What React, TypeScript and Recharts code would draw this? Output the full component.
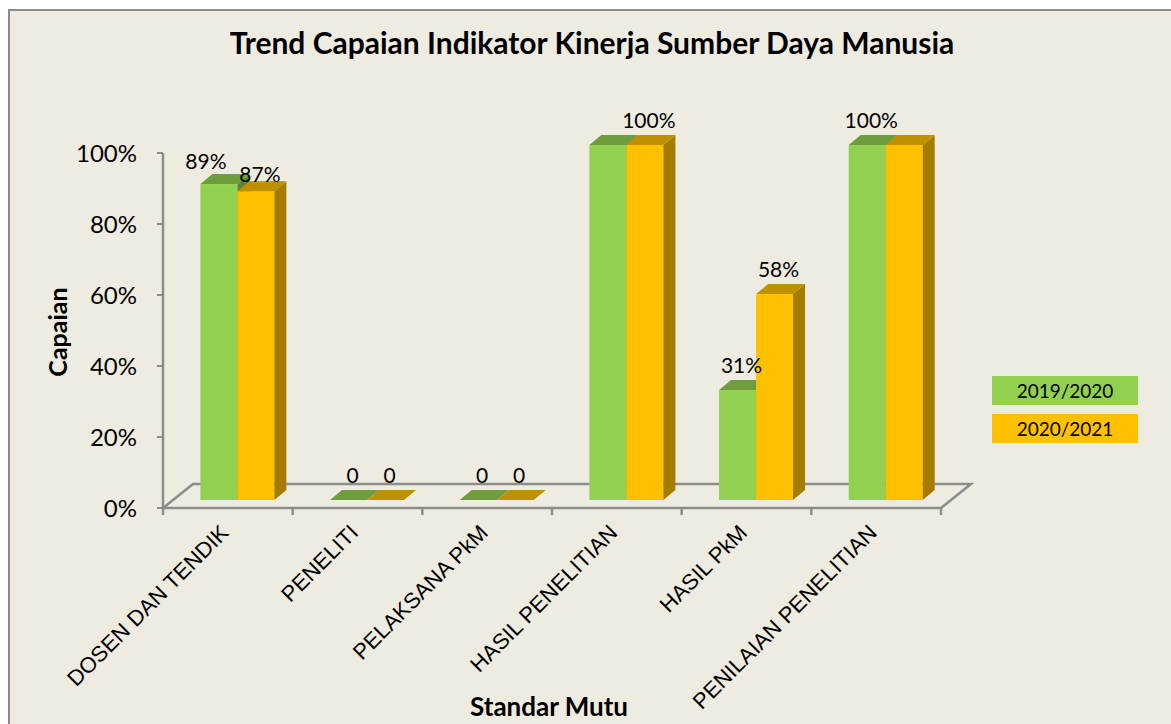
import React from 'react'
import { Bar, BarChart, CartesianGrid, LabelList, Legend, XAxis, YAxis } from 'recharts'

const categories = [
  'DOSEN DAN TENDIK',
  'PENELITI',
  'PELAKSANA PkM',
  'HASIL PENELITIAN',
  'HASIL PkM',
  'PENILAIAN PENELITIAN'
]
const values2019 = [0.89, 0, 0, 1, 0.31, 1]
const values2020 = [0.87, 0, 0, 1, 0.58, 1]
// data labels as shown on the chart (blank = label hidden)
const labels2019 = ['89%', '0', '0', '', '31%', '100%']
const labels2020 = ['87%', '0', '0', '100%', '58%', '']
const seriesNames = ['2019/2020', '2020/2021']
const yTicks = [0, 0.2, 0.4, 0.6, 0.8, 1]

const data = categories.map((name, i) => ({
  name,
  v2019: values2019[i],
  v2020: values2020[i],
  l2019: labels2019[i],
  l2020: labels2020[i]
}))

const WIDTH = 1171
const HEIGHT = 724
const BG = '#EEECE1'
const AXIS = '#8C8C8C'
const CALIBRI = 'Lato, "Open Sans", sans-serif'
const ARIAL = '"Liberation Sans", Arial, sans-serif'

// pseudo 3D geometry
const SHIFT_X = 9.5
const SHIFT_Y = -8
const DEPTH_X = 12
const DEPTH_Y = 10
const FLOOR_X = 30
const FLOOR_Y = 24

const make3DBar = (front: string, top: string, side: string) => (props: any) => {
  const { x, y, width } = props
  const h = Math.max(props.height || 0, 0)
  const fx = x + SHIFT_X
  const fy = y + SHIFT_Y
  return (
    <g>
      {h > 0 && <rect x={fx} y={fy} width={width} height={h} fill={front} />}
      {h > 0 && (
        <polygon
          points={`${fx + width},${fy} ${fx + width + DEPTH_X},${fy - DEPTH_Y} ${fx + width + DEPTH_X},${fy + h - DEPTH_Y} ${fx + width},${fy + h}`}
          fill={side}
        />
      )}
      <polygon
        points={`${fx},${fy} ${fx + width},${fy} ${fx + width + DEPTH_X},${fy - DEPTH_Y} ${fx + DEPTH_X},${fy - DEPTH_Y}`}
        fill={top}
      />
    </g>
  )
}

const GreenBar = make3DBar('#92D050', '#6F9C3D', '#5E8533')
const OrangeBar = make3DBar('#FFC000', '#BF9000', '#A67C00')

// labels of neighbouring bars with nearly equal height get pushed apart
const isCrowded = (i: number) =>
  values2019[i] > 0 &&
  values2020[i] > 0 &&
  labels2019[i] !== '' &&
  labels2020[i] !== '' &&
  Math.abs(values2019[i] - values2020[i]) < 0.05

const makeLabel = (series: 0 | 1) => (props: any) => {
  const vb = props.viewBox || props
  const x = props.x ?? vb.x
  const y = props.y ?? vb.y
  const width = props.width ?? vb.width
  if (!props.value) return null
  const crowded = isCrowded(props.index)
  let dx = 4
  let dy = -17
  if (crowded && series === 0) {
    dx = -13
    dy = -15
  }
  if (crowded && series === 1) dy = -9
  return (
    <text
      x={x + SHIFT_X + width / 2 + dx}
      y={y + SHIFT_Y + dy}
      textAnchor="middle"
      fontFamily={CALIBRI}
      fontSize={21}
      fill="#000"
    >
      {props.value}
    </text>
  )
}

const GreenLabel = makeLabel(0)
const OrangeLabel = makeLabel(1)

const renderFloor = (props: any) => {
  if (props.index !== 0) return <g key={`floor-${props.index}`} />
  const left = props.x
  const right = props.x + props.width
  const bottom = props.y + props.height
  const band = props.width / categories.length
  const ticks = categories.map((_, i) => left + i * band).concat(right)
  return (
    <g key="floor" stroke={AXIS} strokeWidth={2.5} fill="none">
      <polyline
        points={`${left},${bottom} ${left + FLOOR_X},${bottom - FLOOR_Y} ${right + FLOOR_X},${bottom - FLOOR_Y} ${right},${bottom} ${left},${bottom}`}
      />
      {ticks.map((tx, i) => (
        <line key={i} x1={tx} y1={bottom} x2={tx} y2={bottom + 7} />
      ))}
    </g>
  )
}

const CategoryTick = ({ x, y, payload }: any) => {
  const ax = x + 2
  const ay = y + 26
  return (
    <text
      x={ax}
      y={ay}
      transform={`rotate(-45 ${ax} ${ay})`}
      textAnchor="end"
      fontFamily={ARIAL}
      fontSize={22}
      fill="#000"
    >
      {payload.value}
    </text>
  )
}

const LegendBoxes = ({ payload }: any) => (
  <div>
    {(payload || []).map((p: any, i: number) => (
      <div
        key={i}
        style={{
          width: 146,
          height: 29,
          marginBottom: 9,
          background: p.color,
          fontFamily: CALIBRI,
          fontSize: 19,
          color: '#000',
          display: 'flex',
          alignItems: 'center',
          justifyContent: 'center'
        }}
      >
        {p.value}
      </div>
    ))}
  </div>
)

export default function App() {
  return (
    <div
      style={{
        position: 'absolute',
        left: 0,
        top: 0,
        width: WIDTH,
        height: HEIGHT,
        overflow: 'hidden',
        background: '#fff'
      }}
    >
      <div
        style={{
          position: 'absolute',
          left: 8,
          top: 9,
          width: 1300,
          height: 900,
          background: BG,
          border: '2px solid #8B8B8B'
        }}
      />
      <div
        style={{
          position: 'absolute',
          left: 0,
          top: 24,
          width: 1184,
          textAlign: 'center',
          fontFamily: CALIBRI,
          fontWeight: 700,
          fontSize: 30,
          color: '#000'
        }}
      >
        Trend Capaian Indikator Kinerja Sumber Daya Manusia
      </div>
      <div
        style={{
          position: 'absolute',
          left: 57,
          top: 332,
          transform: 'translate(-50%, -50%) rotate(-90deg)',
          fontFamily: CALIBRI,
          fontWeight: 700,
          fontSize: 25,
          whiteSpace: 'nowrap'
        }}
      >
        Capaian
      </div>
      <div
        style={{
          position: 'absolute',
          left: 549,
          top: 706,
          transform: 'translate(-50%, -50%)',
          fontFamily: CALIBRI,
          fontWeight: 700,
          fontSize: 26,
          whiteSpace: 'nowrap'
        }}
      >
        Standar Mutu
      </div>
      <div style={{ position: 'absolute', left: 0, top: 0 }}>
        <BarChart
          width={WIDTH}
          height={HEIGHT}
          data={data}
          margin={{ top: 153, right: 230, left: 103, bottom: 36 }}
          barCategoryGap="21.5%"
          barGap={0}
        >
          <CartesianGrid horizontal={renderFloor} vertical={false} />
          <YAxis
            width={60}
            domain={[0, 1]}
            ticks={yTicks}
            tickFormatter={(v: number) => `${Math.round(v * 100)}%`}
            tick={{ fontFamily: CALIBRI, fontSize: 24, fill: '#000' }}
            axisLine={{ stroke: AXIS, strokeWidth: 2.5 }}
            tickLine={{ stroke: AXIS, strokeWidth: 2 }}
            tickSize={6}
            tickMargin={20}
          />
          <XAxis
            dataKey="name"
            height={180}
            interval={0}
            axisLine={false}
            tickLine={false}
            tickSize={0}
            tickMargin={0}
            tick={<CategoryTick />}
          />
          <Legend
            layout="vertical"
            align="center"
            verticalAlign="middle"
            wrapperStyle={{ left: 992, top: 376, width: 150 }}
            content={<LegendBoxes />}
          />
          <Bar
            dataKey="v2019"
            name={seriesNames[0]}
            fill="#92D050"
            shape={GreenBar}
            isAnimationActive={false}
          >
            <LabelList dataKey="l2019" content={<GreenLabel />} />
          </Bar>
          <Bar
            dataKey="v2020"
            name={seriesNames[1]}
            fill="#FFC000"
            shape={OrangeBar}
            isAnimationActive={false}
          >
            <LabelList dataKey="l2020" content={<OrangeLabel />} />
          </Bar>
        </BarChart>
      </div>
    </div>
  )
}
